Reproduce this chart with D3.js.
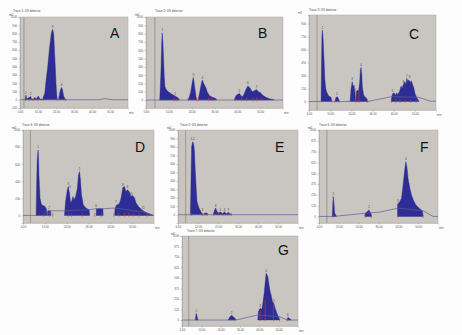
<!DOCTYPE html>
<html>
<head>
<meta charset="utf-8">
<script src="https://cdn.jsdelivr.net/npm/d3@7"></script>
<style>
body { margin: 0; background: #fdfdfd; }
svg text { font-family: "Liberation Sans", Arial, sans-serif; }
</style>
</head>
<body>
<script>
// panel letters and the small report headers
var letters = ["A", "B", "C", "D", "E", "F", "G"];
var titles = ["Trace 1: UV detector", "Trace 2: UV detector", "Trace 3: UV detector",
  "Trace 4: UV detector", "Trace 5: UV detector", "Trace 6: UV detector", "Trace 7: UV detector"];
var xTicks = [0, 10, 20, 30, 40, 50];

// injection marker position (min) for each trace
var markT = [2.2, 3.9, 3.8, 3.4, 3.85, 4.0, 3.5];

// traces: [time (min), signal (mV above baseline)], one array per integrated group
var peaksA = [
  [[2.8,0],[3.3,56],[3.8,10],[4.6,20],[5.9,40],[6.5,5],[7.6,10],[8.3,30],[9.0,5],[10.2,45],[11.0,8],[12.0,10],[12.4,0]],
  [[12.6,0],[13.0,36],[13.8,80],[14.3,198],[15.4,400],[16.3,604],[17.4,806],[18.1,852],[18.7,800],[19.6,400],[20.0,198],[20.4,60],[20.7,0]],
  [[21.3,0],[21.7,40],[22.3,110],[23.1,150],[23.6,120],[24.1,60],[24.7,20],[25.4,0]]
];
var peaksB = [
  [[6.0,0],[6.5,300],[6.9,700],[7.1,808],[7.4,700],[7.6,560],[8.0,280],[8.3,160],[9.0,120],[9.8,100],[11.2,72],[12.7,48],[14.2,24],[14.6,0]],
  [[18.5,0],[19.0,40],[19.6,100],[20.3,220],[20.7,272],[21.0,230],[21.3,160],[21.9,40],[22.3,0]],
  [[22.9,0],[23.0,20],[23.7,120],[24.4,220],[24.7,240],[25.1,210],[25.6,180],[26.2,150],[26.8,100],[27.9,48],[29.7,28],[30.7,16],[30.9,0]],
  [[38.8,0],[39.0,32],[39.7,60],[40.9,80],[42.0,40],[42.8,60],[43.5,110],[44.0,140],[44.6,170],[45.0,160],[45.7,140],[46.5,100],[47.5,112],[48.4,128],[49.2,100],[50.2,88],[51.0,60],[52.5,32],[54.0,16],[56.2,0]]
];
var peaksC = [
  [[5.7,0],[5.9,400],[6.1,760],[6.3,826],[6.5,780],[6.7,710],[7.1,480],[7.5,248],[7.9,150],[8.3,114],[9.3,64],[10.4,48],[10.8,0]],
  [[12.3,0],[12.6,40],[13.1,56],[13.6,48],[14.0,30],[14.2,0]],
  [[19.4,0],[19.9,152],[20.4,229],[20.9,171],[21.3,190],[21.8,75],[22.1,0]],
  [[22.2,0],[22.4,114],[23.0,133],[23.4,114],[23.9,210],[24.3,364],[24.6,394],[24.9,325],[25.2,171],[25.8,75],[26.6,48],[27.4,33],[27.6,0]],
  [[38.8,0],[39.0,40],[39.5,90],[40.2,100],[40.8,70],[41.4,100],[42.0,80],[42.8,120],[43.5,180],[44.0,150],[44.6,200],[45.3,230],[45.8,190],[46.2,270],[46.6,240],[47.2,250],[47.8,220],[48.3,240],[48.9,200],[49.5,160],[50.1,90],[50.8,50],[51.8,10],[52.0,0]]
];
var peaksD = [
  [[6.0,0],[6.2,300],[6.5,650],[6.9,766],[7.1,700],[7.3,475],[7.8,202],[8.5,124],[10.1,105],[10.7,78],[11.0,0]],
  [[11.2,0],[11.3,54],[12.6,54],[12.8,0]],
  [[19.0,0],[19.5,163],[20.3,300],[20.7,338],[21.3,260],[21.8,144],[22.3,170],[22.9,222],[23.4,183],[24.1,222],[24.9,319],[25.4,475],[25.9,513],[26.3,416],[26.8,241],[27.6,124],[28.8,86],[30.3,66],[30.5,0]],
  [[33.5,0],[33.6,78],[36.6,78],[36.7,0]],
  [[42.0,0],[42.1,78],[42.9,124],[44.0,132],[44.9,202],[45.7,327],[46.5,338],[47.1,280],[47.8,300],[48.6,280],[49.4,222],[50.1,233],[51.0,210],[51.8,144],[52.9,105],[54.4,66],[55.9,39],[58.2,16],[59.7,0]]
];
var peaksE = [
  [[6.2,0],[6.5,400],[6.8,800],[7.3,862],[7.8,840],[8.2,760],[8.5,588],[9.0,353],[9.5,157],[10.5,78],[11.5,31],[12.2,8],[12.4,0]],
  [[13.0,0],[13.3,20],[14.5,20],[14.8,0]],
  [[17.5,0],[18.35,59],[18.85,78],[19.5,39],[20.2,20],[21.2,31],[22.2,15],[23.35,31],[24.2,12],[25.2,27],[26.2,8],[26.7,0]]
];
var peaksF = [
  [[6.7,0],[7.0,173],[7.2,231],[7.6,135],[7.9,38],[8.6,12],[8.8,0]],
  [[23.2,0],[23.2,27],[24.0,50],[24.8,65],[25.2,77],[25.7,50],[26.3,27],[26.5,0]],
  [[39.6,0],[39.6,142],[40.8,173],[41.6,211],[42.4,365],[43.3,557],[43.8,634],[44.3,577],[44.9,442],[45.8,327],[46.6,250],[47.5,192],[48.8,135],[50.5,96],[52.1,65],[52.5,0]]
];
var peaksG = [
  [[6.9,0],[7.3,79],[7.6,60],[8.0,20],[8.3,0]],
  [[23.9,0],[24.8,40],[25.7,56],[26.5,40],[27.4,20],[27.9,0]],
  [[39.2,0],[39.5,99],[40.4,139],[41.3,127],[41.8,199],[42.5,318],[43.0,437],[43.5,556],[44.0,536],[44.4,516],[44.9,437],[45.3,377],[45.6,337],[46.1,298],[46.8,218],[47.5,199],[48.2,139],[49.1,79],[49.9,40],[50.5,0]],
  [[54.3,0],[54.8,32],[55.5,20],[56.5,0]]
];

// integration baselines drawn over the trace
var driftA = [[0,0],[44,0],[46,10],[48,12],[50,4],[52,0],[60,0]];
var driftB = [[0,0],[60,0]];
var driftC = [[0,0],[27.7,0],[39,56],[52,48],[57.2,4],[60,4]];
var driftD = [[0,0],[10.7,0],[12.8,54],[19.0,54],[30.3,66],[33.5,78],[36.7,78],[42.0,86],[55,40],[59.7,0],[60,0]];
var driftE = [[0,0],[60,0]];
var driftF = [[0,0],[7.2,0],[24,38],[30.7,50],[39.9,96],[52.5,65],[57.5,0],[60,0]];
var driftG = [[0,0],[27.9,0],[39.2,60],[50.5,40],[54.3,0],[60,0]];

// red peak-boundary marks: [time, top]
var cutsA = [[3,15],[5.2,15],[7.2,15],[9.5,15],[12.6,15],[20.7,15],[25.4,15]];
var cutsB = [[12.3,30],[13.9,30],[18.5,30],[22.2,30],[22.9,30],[27.3,30],[28.8,30],[39.0,30],[41.9,30],[44.1,30],[47.0,30],[48.5,30],[50.7,30]];
var cutsC = [[12.3,20],[14.3,20],[22.1,150],[23.6,120],[27.7,20],[39,30],[41.1,30],[43,30],[45.4,30],[48,30],[50.6,30]];
var cutsD = [[9.5,30],[12.1,30],[13.6,30],[20.9,30],[22.2,30],[27.1,30],[32.9,30],[35.9,30],[41.6,30],[43.9,30],[46.5,30],[48.5,30],[50.5,30],[53.1,30],[56.9,30]];
var cutsE = [[6.8,20],[12.2,20],[13.0,20],[14.7,20],[17.8,20],[20,20],[22.5,20],[25,20],[26.7,20]];
var cutsF = [[7.2,20],[23.2,20],[26.5,20],[39.9,20],[52.5,20]];
var cutsG = [[40.4,100],[43.0,238],[47.3,200],[50.5,30],[54.3,20]];

// peak numbers at the apexes
var labelsA = [[3.3,56,"1"],[5.9,40,"2"],[18.1,852,"3"],[23.1,150,"4"]];
var labelsB = [[7.1,808,"1"],[12.7,48,"2"],[20.7,272,"3"],[24.7,240,"4"],[40.9,80,"5"],[44.6,170,"6"],[48.4,128,"7"]];
var labelsC = [[6.3,826,"1"],[13.1,56,"2"],[20.4,229,"3"],[24.6,394,"4"],[39.5,90,"5"],[44.6,200,"6"],[46.2,270,"7"],[47.5,250,"8"]];
var labelsD = [[6.9,766,"1"],[12,54,"2"],[20.7,338,"3"],[21.5,300,"4"],[25.9,513,"5"],[33.5,78,"6"],[42.5,124,"7"],[45.7,327,"8"],[47.8,300,"9"],[49.4,222,"10"],[55,60,"11"]];
var labelsE = [[7.3,862,"1.2"],[12.2,31,"3"],[18.85,78,"4"],[21.2,31,"5"],[23.35,31,"6"],[25.2,27,"7"]];
var labelsF = [[7.2,231,"1"],[25.2,77,"2"],[39.8,150,"3"],[43.8,634,"4"]];
var labelsG = [[7.3,79,"1"],[25.7,56,"2"],[40.4,139,"3"],[43.5,556,"4"],[47.5,199,"5"],[54.8,32,"6"]];

var peaks = [peaksA, peaksB, peaksC, peaksD, peaksE, peaksF, peaksG];
var drifts = [driftA, driftB, driftC, driftD, driftE, driftF, driftG];
var cuts = [cutsA, cutsB, cutsC, cutsD, cutsE, cutsF, cutsG];
var labels = [labelsA, labelsB, labelsC, labelsD, labelsE, labelsF, labelsG];

// where each plot sits on the page
var layout = [
  {x: 20,  y: 17,  w: 108, h: 91, ymin: -100, step: 100, lx: 110, ly: 38,  tx: -7, ty: -5},
  {x: 146, y: 17,  w: 137, h: 91, ymin: -96,  step: 100, lx: 258, ly: 38,  tx: 9,  ty: -5},
  {x: 309, y: 15,  w: 127, h: 95, ymin: -98,  step: 150, lx: 409, ly: 39,  tx: 0,  ty: -4},
  {x: 23,  y: 130, w: 131, h: 93, ymin: -89,  step: 200, lx: 135, ly: 152, tx: -1, ty: -4},
  {x: 178, y: 130, w: 120, h: 93, ymin: -98,  step: 100, lx: 275, ly: 152, tx: 2,  ty: -4},
  {x: 319, y: 130, w: 119, h: 93, ymin: -76,  step: 125, lx: 420, ly: 152, tx: 0,  ty: -4},
  {x: 182, y: 236, w: 116, h: 90, ymin: -71,  step: 125, lx: 278, ly: 255, tx: 5,  ty: -4}
];

var svg = d3.select("body").append("svg")
  .attr("width", 462)
  .attr("height", 335);

svg.append("rect")
  .attr("width", 462)
  .attr("height", 335)
  .attr("fill", "#fdfdfd");

layout.forEach(function(p, i) {
  var x = d3.scaleLinear().domain([0, 60]).range([0, p.w]);
  var y = d3.scaleLinear().domain([p.ymin, 1000]).range([p.h, 0]);

  var g = svg.append("g").attr("transform", "translate(" + p.x + "," + p.y + ")");

  g.append("rect")
    .attr("width", p.w)
    .attr("height", p.h)
    .attr("fill", "#c9c6c1")
    .attr("stroke", "#aeaba7")
    .attr("stroke-width", 0.5);

  // injection marker
  g.append("line")
    .attr("x1", x(markT[i])).attr("x2", x(markT[i]))
    .attr("y1", 0).attr("y2", p.h)
    .attr("stroke", "#8f8c89")
    .attr("stroke-width", 0.8);

  var area = d3.area()
    .x(function(d) { return x(d[0]); })
    .y0(y(0))
    .y1(function(d) { return y(d[1]); });

  g.selectAll(".pk")
    .data(peaks[i])
    .enter().append("path")
    .attr("class", "pk")
    .attr("d", area)
    .attr("fill", "#2d2d95")
    .attr("stroke", "#25258a")
    .attr("stroke-width", 0.4);

  var line = d3.line()
    .x(function(d) { return x(d[0]); })
    .y(function(d) { return y(d[1]); });

  g.append("path")
    .attr("d", line(drifts[i]))
    .attr("fill", "none")
    .attr("stroke", "#5e5c98")
    .attr("stroke-width", 0.7);

  g.selectAll(".cut")
    .data(cuts[i])
    .enter().append("line")
    .attr("class", "cut")
    .attr("x1", function(d) { return x(d[0]); })
    .attr("x2", function(d) { return x(d[0]); })
    .attr("y1", y(-15))
    .attr("y2", function(d) { return y(d[1]); })
    .attr("stroke", "#d23a3a")
    .attr("stroke-width", 0.6);

  g.selectAll(".lab")
    .data(labels[i])
    .enter().append("text")
    .attr("class", "lab")
    .attr("x", function(d) { return x(d[0]); })
    .attr("y", function(d) { return y(d[1]) - 1.5; })
    .attr("text-anchor", "middle")
    .attr("font-size", 3)
    .attr("fill", "#444")
    .text(function(d) { return d[2]; });

  // axes
  var yTicks = d3.range(Math.ceil(p.ymin / p.step) * p.step, 1001, p.step);
  var ya = g.append("g")
    .call(d3.axisLeft(y).tickValues(yTicks).tickSize(1.5).tickPadding(1.5).tickFormat(d3.format(".0f")));
  var xa = g.append("g")
    .attr("transform", "translate(0," + p.h + ")")
    .call(d3.axisBottom(x).tickValues(xTicks).tickSize(1.5).tickPadding(1.5).tickFormat(d3.format(".2f")));
  [ya, xa].forEach(function(a) {
    a.select(".domain").attr("stroke", "#999").attr("stroke-width", 0.4);
    a.selectAll(".tick line").attr("stroke", "#888").attr("stroke-width", 0.4);
    a.selectAll("text").attr("font-size", 2.8).attr("fill", "#555")
      .attr("font-family", "Liberation Sans, Arial, sans-serif");
  });

  g.append("text")
    .attr("x", -11).attr("y", -1.5)
    .attr("font-size", 2.8).attr("fill", "#555")
    .text("mV");
  g.append("text")
    .attr("x", p.w + 1).attr("y", p.h + 6)
    .attr("font-size", 2.8).attr("fill", "#555")
    .text("min");

  g.append("text")
    .attr("x", p.tx).attr("y", p.ty)
    .attr("font-size", 3).attr("fill", "#444")
    .text(titles[i]);

  svg.append("text")
    .attr("x", p.lx).attr("y", p.ly)
    .attr("font-size", 14)
    .attr("fill", "#111")
    .text(letters[i]);
});
</script>
</body>
</html>
